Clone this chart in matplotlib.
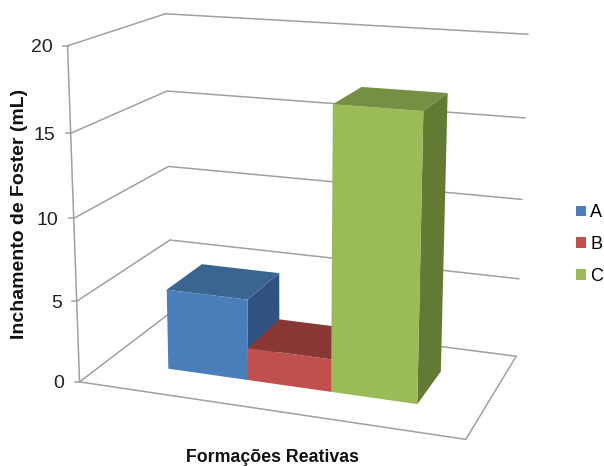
import numpy as np
import matplotlib
matplotlib.use('Agg')
import matplotlib.pyplot as plt
from matplotlib.patches import Patch

plt.rcParams['font.family'] = ['Liberation Sans', 'DejaVu Sans']

series = ['A', 'B', 'C']
values = [5.0, 2.0, 17.0]
yticks = [0, 5, 10, 15, 20]

colors_front = ['#4a7ebb', '#c0504d', '#9bbb59']
colors_top = ['#3b6591', '#8a3836', '#758f44']
colors_side = ['#2f5280', '#7a2f2d', '#637a35']

YMAX = 20.0
GRID = '#a0a0a0'

# camera of the 3D box: fitted from box corners (u across, v depth, w height)
anchors = [
    ((0, 0, 0.00), (80, 382)), ((0, 0, 0.25), (76, 301)), ((0, 0, 0.50), (73, 219)),
    ((0, 0, 0.75), (71, 133)), ((0, 0, 1.00), (68, 46)),
    ((0, 1, 0.25), (170, 240)), ((0, 1, 0.50), (169, 166)),
    ((0, 1, 0.75), (167, 91)), ((0, 1, 1.00), (165, 14)),
    ((1, 1, 0.00), (516, 356)), ((1, 1, 0.25), (519, 280)), ((1, 1, 0.50), (522, 199)),
    ((1, 1, 0.75), (525, 118)), ((1, 1, 1.00), (528, 34)),
    ((1, 0, 0.00), (466, 439)),
]


def fit_camera(pairs):
    rows = []
    for (u, v, w), (x, y) in pairs:
        p = [u, v, w, 1]
        rows.append(p + [0, 0, 0, 0] + [-x * c for c in p])
        rows.append([0, 0, 0, 0] + p + [-y * c for c in p])
    _, _, vt = np.linalg.svd(np.array(rows, dtype=float))
    return vt[-1].reshape(3, 4)


P = fit_camera(anchors)


def proj(u, v, val):
    h = P @ np.array([u, v, val / YMAX, 1.0])
    return h[0] / h[2], h[1] / h[2]


fig = plt.figure(figsize=(6.04, 4.66), dpi=100)
ax = fig.add_axes([0, 0, 1, 1])
ax.set_xlim(0, 604)
ax.set_ylim(466, 0)
ax.axis('off')


def line(p0, p1):
    ax.plot([p0[0], p1[0]], [p0[1], p1[1]], color=GRID, lw=1.1, solid_capstyle='round', zorder=1)


# gridlines on the side and back walls
for t in yticks:
    line(proj(0, 0, t), proj(0, 1, t))
    line(proj(0, 1, t), proj(1, 1, t))
    fx, fy = proj(0, 0, t)
    ax.plot([fx - 5, fx], [fy, fy], color=GRID, lw=1.1, zorder=1)
    ax.text(fx - 15, fy + 2, str(t), ha='right', va='center', fontsize=14, color='#222222')

# value axis and floor
line(proj(0, 0, 0), proj(0, 0, YMAX))
line(proj(0, 0, 0), proj(1, 0, 0))
line(proj(1, 0, 0), proj(1, 1, 0))

# bars, left to right so each one covers the side of the previous
u_start = 0.1735
bar_w = 0.2222
v0, v1 = 0.285, 0.69
for i, val in enumerate(values):
    u0 = u_start + i * bar_w
    u1 = u0 + bar_w
    front = [proj(u0, v0, 0), proj(u1, v0, 0), proj(u1, v0, val), proj(u0, v0, val)]
    side = [proj(u1, v0, 0), proj(u1, v1, 0), proj(u1, v1, val), proj(u1, v0, val)]
    top = [proj(u0, v0, val), proj(u1, v0, val), proj(u1, v1, val), proj(u0, v1, val)]
    ax.fill(*zip(*side), color=colors_side[i], lw=0, zorder=2 + i)
    ax.fill(*zip(*top), color=colors_top[i], lw=0, zorder=2 + i)
    ax.fill(*zip(*front), color=colors_front[i], lw=0, zorder=2 + i)

ax.text(20, 213.5, 'Inchamento de Foster (mL)', rotation=90, ha='center', va='center',
        fontsize=14, fontweight='bold', color='#111111')
ax.text(272, 458, 'Formações Reativas', ha='center', va='center',
        fontsize=12.8, fontweight='bold', color='#111111')

handles = [Patch(facecolor=c, label=s) for c, s in zip(colors_front, series)]
ax.legend(handles=handles, loc='center left', bbox_to_anchor=(576 / 604, 1 - 244.5 / 466),
          frameon=False, fontsize=13, handlelength=0.55, handleheight=0.55,
          handletextpad=0.25, labelspacing=0.81, borderpad=0, borderaxespad=0)

fig.savefig('out.png', dpi=100)
